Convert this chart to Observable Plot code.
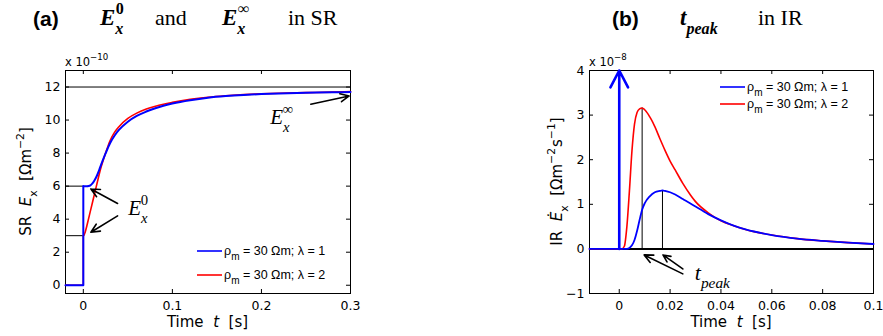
<!DOCTYPE html>
<html><head><meta charset="utf-8">
<script src="https://cdn.jsdelivr.net/npm/d3@7"></script>
<script src="https://cdn.jsdelivr.net/npm/@observablehq/plot@0.6"></script>
<style>
body{margin:0;background:#fff;}
#wrap{display:flex;width:883px;height:336px;overflow:hidden;}
#wrap svg{flex:none;}
</style></head><body><div id="wrap"></div>
<script>
// ---------- panel (a): SR ----------
const srDomainX = [-0.02, 0.3];
const srDomainY = [-0.5, 13];
const srTicksX = [0, 0.1, 0.2, 0.3];
const srTickLabelsX = ["0", "0.1", "0.2", "0.3"];
const srTicksY = [0, 2, 4, 6, 8, 10, 12];
const srTickLabelsY = ["0", "2", "4", "6", "8", "10", "12"];
const srInfinity = [12];

const srBlueT = [0, 0.004, 0.006, 0.008, 0.010, 0.012, 0.015, 0.018, 0.020, 0.025, 0.030, 0.035, 0.040, 0.050, 0.060, 0.070, 0.080, 0.090, 0.100, 0.120, 0.140, 0.160, 0.180, 0.200, 0.220, 0.250, 0.280, 0.300];
const srBlueV = [6.00, 6.00, 6.01, 6.05, 6.15, 6.30, 6.60, 7.00, 7.30, 7.98, 8.60, 9.05, 9.40, 9.90, 10.25, 10.50, 10.70, 10.87, 11.00, 11.20, 11.35, 11.45, 11.52, 11.57, 11.61, 11.65, 11.68, 11.70];
const srRedT = [0, 0.001, 0.002, 0.004, 0.006, 0.008, 0.010, 0.012, 0.014, 0.016, 0.018, 0.020, 0.022, 0.025, 0.030, 0.035, 0.040, 0.050, 0.060, 0.070, 0.080, 0.090, 0.100, 0.120, 0.140, 0.160, 0.180, 0.200, 0.220, 0.250, 0.280, 0.300];
const srRedV = [3.00, 3.05, 3.20, 3.60, 4.05, 4.50, 4.95, 5.40, 5.85, 6.30, 6.75, 7.15, 7.50, 8.00, 8.75, 9.25, 9.60, 10.10, 10.42, 10.65, 10.82, 10.96, 11.07, 11.25, 11.38, 11.47, 11.54, 11.59, 11.62, 11.66, 11.69, 11.72];

const srE0Arrows = [{x1: 0.0385, y1: 4.95, x2: 0.0085, y2: 5.83}, {x1: 0.0385, y1: 4.20, x2: 0.0085, y2: 3.21}];
const srEinfArrow = [{x1: 0.2554, y1: 10.96, x2: 0.2985, y2: 11.46}];
const srE0Label = {x: 0.051, y: 4.22};
const srEinfLabel = {x: 0.2105, y: 9.71};

// ---------- panel (b): IR ----------
const irDomainX = [-0.0117, 0.1];
const irDomainY = [-1, 4];
const irTicksX = [0, 0.02, 0.04, 0.06, 0.08, 0.1];
const irTickLabelsX = ["0", "0.02", "0.04", "0.06", "0.08", "0.1"];
const irTicksY = [-1, 0, 1, 2, 3, 4];
const irTickLabelsY = ["\u22121", "0", "1", "2", "3", "4"];

const irRedT = [0, 0.001, 0.002, 0.003, 0.004, 0.005, 0.006, 0.007, 0.008, 0.009, 0.010, 0.011, 0.012, 0.013, 0.014, 0.016, 0.018, 0.020, 0.022, 0.025, 0.028, 0.030, 0.035, 0.040, 0.045, 0.050, 0.060, 0.070, 0.080, 0.090, 0.100];
const irRedV = [0, 0, 0.06, 0.50, 1.30, 2.20, 2.80, 3.06, 3.14, 3.16, 3.12, 3.05, 2.96, 2.86, 2.74, 2.47, 2.21, 1.97, 1.77, 1.47, 1.21, 1.06, 0.81, 0.63, 0.52, 0.43, 0.31, 0.23, 0.18, 0.14, 0.11];
const irBlueT = [0, 0.003, 0.004, 0.005, 0.006, 0.007, 0.008, 0.009, 0.010, 0.012, 0.014, 0.016, 0.017, 0.018, 0.020, 0.022, 0.025, 0.028, 0.030, 0.035, 0.040, 0.045, 0.050, 0.060, 0.070, 0.080, 0.090, 0.100];
const irBlueV = [0, 0, 0.02, 0.08, 0.20, 0.40, 0.65, 0.88, 1.02, 1.18, 1.27, 1.30, 1.31, 1.30, 1.27, 1.22, 1.12, 1.02, 0.95, 0.78, 0.64, 0.52, 0.43, 0.31, 0.23, 0.18, 0.14, 0.11];

const irPeakArrows = [{x1: 0.025, y1: -0.56, x2: 0.0098, y2: -0.135}, {x1: 0.025, y1: -0.45, x2: 0.0172, y2: -0.135}];
const irPeakLabel = {x: 0.0299, y: -0.71};

const legendLabels = ["1", "2"];
const BLUE = "#0000ff", RED = "#ff0000";

// ---------- helpers ----------
const zip = (T, V) => T.map((t, i) => ({t, v: V[i]}));
function boxTicks(xt, yt, xd, yd, len) {
  return [
    Plot.ruleX(xt, {x: d => d, y1: yd[0], y2: yd[0], insetBottom: len, stroke: "black"}),
    Plot.ruleX(xt, {x: d => d, y1: yd[1], y2: yd[1], insetTop: len, stroke: "black"}),
    Plot.ruleY(yt, {y: d => d, x1: xd[0], x2: xd[0], insetLeft: len, stroke: "black"}),
    Plot.ruleY(yt, {y: d => d, x1: xd[1], x2: xd[1], insetRight: len, stroke: "black"})
  ];
}
function rich(sel, parts, size) {
  let off = 0;
  for (const p of parts) {
    const target = p.sub ? size * 0.38 : p.sup ? -size * 0.5 : 0;
    const ts = sel.append("tspan").text(p.t).attr("dy", target - off);
    off = target;
    if (p.sub || p.sup) ts.attr("font-size", size * (p.scale || 0.72));
    if (p.it) ts.attr("font-style", "italic");
    if (p.bold) ts.attr("font-weight", "bold");
    if (p.font) ts.attr("font-family", p.font);
    if (p.dx != null) ts.attr("dx", p.dx);
  }
  return sel;
}
const SANS = "DejaVu Sans", SERIF = "Liberation Serif", LEG = "Liberation Sans";
const style = {fontFamily: SANS, fontSize: "12.5px", color: "black", background: "white"};

// ---------- panel (a) plot ----------
const srBlue = zip(srBlueT, srBlueV), srRed = zip(srRedT, srRedV);
const stepOf = (s, x0) => [{t: x0, v: 0}, {t: s[0].t, v: 0}, {t: s[0].t, v: s[0].v}];
const plotA = Plot.plot({
  width: 441, height: 336,
  marginLeft: 65, marginRight: 91, marginTop: 70, marginBottom: 43,
  style,
  x: {domain: srDomainX, ticks: srTicksX, tickSize: 0, tickPadding: 8, tickFormat: d => srTickLabelsX[srTicksX.indexOf(d)], label: null},
  y: {domain: srDomainY, ticks: srTicksY, tickSize: 0, tickPadding: 5, tickFormat: d => srTickLabelsY[srTicksY.indexOf(d)], label: null},
  marks: [
    Plot.frame({stroke: "black"}),
    ...boxTicks(srTicksX, srTicksY, srDomainX, srDomainY, 4),
    Plot.ruleY(srInfinity, {stroke: "black", strokeWidth: 1}),
    Plot.ruleY([srBlue[0].v, srRed[0].v], {x1: srDomainX[0], x2: srBlue[0].t, stroke: "black", strokeWidth: 1}),
    Plot.line(stepOf(srRed, srDomainX[0]), {x: "t", y: "v", stroke: RED, strokeWidth: 1.5}),
    Plot.line(srRed, {x: "t", y: "v", stroke: RED, strokeWidth: 1.6, curve: "monotone-x"}),
    Plot.line(stepOf(srBlue, srDomainX[0]), {x: "t", y: "v", stroke: BLUE, strokeWidth: 2}),
    Plot.line(srBlue, {x: "t", y: "v", stroke: BLUE, strokeWidth: 2, curve: "monotone-x"}),
    Plot.arrow(srE0Arrows, {x1: "x1", y1: "y1", x2: "x2", y2: "y2", stroke: "black", strokeWidth: 1.6, headLength: 9, headAngle: 50}),
    Plot.arrow(srEinfArrow, {x1: "x1", y1: "y1", x2: "x2", y2: "y2", stroke: "black", strokeWidth: 1.6, headLength: 9, headAngle: 50})
  ]
});

// ---------- panel (b) plot ----------
const irRed = zip(irRedT, irRedV), irBlue = zip(irBlueT, irBlueV);
const peakOf = s => s[d3.greatestIndex(s, d => d.v)];
const irPeaks = [peakOf(irRed), peakOf(irBlue)];
const plotB = Plot.plot({
  width: 442, height: 336,
  marginLeft: 148, marginRight: 10, marginTop: 70, marginBottom: 43,
  style,
  x: {domain: irDomainX, ticks: irTicksX, tickSize: 0, tickPadding: 8, tickFormat: d => irTickLabelsX[irTicksX.indexOf(d)], label: null},
  y: {domain: irDomainY, ticks: irTicksY, tickSize: 0, tickPadding: 5, tickFormat: d => irTickLabelsY[irTicksY.indexOf(d)], label: null},
  marks: [
    Plot.frame({stroke: "black"}),
    ...boxTicks(irTicksX, irTicksY, irDomainX, irDomainY, 4),
    Plot.ruleY([0], {stroke: "black", strokeWidth: 2}),
    Plot.ruleX(irPeaks, {x: "t", y1: 0, y2: "v", stroke: "black", strokeWidth: 1}),
    Plot.line([{t: irDomainX[0], v: 0}, ...irRed], {x: "t", y: "v", stroke: RED, strokeWidth: 1.6, curve: "monotone-x"}),
    Plot.line([{t: irDomainX[0], v: 0}, ...irBlue], {x: "t", y: "v", stroke: BLUE, strokeWidth: 1.8, curve: "monotone-x"}),
    Plot.arrow([{t: 0}], {x1: "t", x2: "t", y1: 0, y2: irDomainY[1], stroke: BLUE, strokeWidth: 2.6, headLength: 11, headAngle: 55}),
    Plot.arrow(irPeakArrows, {x1: "x1", y1: "y1", x2: "x2", y2: "y2", stroke: "black", strokeWidth: 1.6, headLength: 9, headAngle: 50})
  ]
});

const wrap = document.getElementById("wrap");
wrap.append(plotA, plotB);

// ---------- text overlays ----------
function decorate(plot, opts) {
  const sx = plot.scale("x"), sy = plot.scale("y");
  const X = v => sx.apply(v), Y = v => sy.apply(v);
  const [left, right] = sx.range, [bottom, top] = sy.range;
  const svg = d3.select(plot);
  const g = svg.append("g").attr("fill", "black").attr("text-anchor", "start");
  rich(g.append("text").attr("x", left).attr("y", top - 4).attr("font-family", SANS).attr("font-size", 11.5),
    [{t: "x 10"}, {t: opts.exp, sup: true, scale: 0.75}], 11.5);
  rich(g.append("text").attr("x", (left + right) / 2).attr("y", 327).attr("text-anchor", "middle").attr("font-family", SANS).attr("font-size", 15).style("white-space", "pre"),
    [{t: "Time  "}, {t: "t", it: true}, {t: "  [s]"}], 15);
  rich(g.append("text").attr("transform", `translate(${opts.ylabelX},${(top + bottom) / 2}) rotate(-90)`).attr("text-anchor", "middle").attr("font-family", SANS).attr("font-size", 15).style("white-space", "pre"),
    opts.ylabel, 15);
  opts.legend.forEach((c, i) => {
    const ly = opts.legendY(top, bottom)[i];
    const lx = right - 153;
    g.append("line").attr("x1", lx).attr("x2", lx + 25).attr("y1", ly).attr("y2", ly).attr("stroke", c).attr("stroke-width", 1.6);
    rich(g.append("text").attr("x", lx + 27).attr("y", ly + 4).attr("font-family", LEG).attr("font-size", 12.5).style("white-space", "pre"),
      [{t: "\u03c1"}, {t: "m", sub: true, scale: 0.8}, {t: " = 30 \u03a9m; \u03bb = " + legendLabels[i]}], 12.5);
  });
  return {g, X, Y};
}

const A = decorate(plotA, {
  exp: "\u221210", ylabelX: 31,
  ylabel: [{t: "SR  "}, {t: "E", it: true}, {t: "x", sub: true}, {t: "  [\u03a9m"}, {t: "\u22122", sup: true}, {t: "]"}],
  legend: [BLUE, RED], legendY: (top, bottom) => [bottom - 42, bottom - 18]
});
function eLabel(g, x, y, sup, size, bold) {
  const t = g.append("text").attr("x", x).attr("y", y).attr("font-family", SERIF).attr("font-size", size);
  if (bold) t.attr("font-weight", "bold");
  rich(t, [{t: "E", it: true}, {t: "x", it: true, sub: true, scale: 0.7}, {t: sup, sup: true, scale: 0.7, dx: -size * 0.33}], size);
  return t;
}
eLabel(A.g, A.X(srE0Label.x), A.Y(srE0Label.y), "0", 21, false);
eLabel(A.g, A.X(srEinfLabel.x), A.Y(srEinfLabel.y), "\u221e", 21, false);
A.g.append("text").attr("x", 33).attr("y", 26).attr("font-family", LEG).attr("font-weight", "bold").attr("font-size", 21).text("(a)");
eLabel(A.g, 100, 25, "0", 23, true);
A.g.append("text").attr("x", 155).attr("y", 25).attr("font-family", SERIF).attr("font-size", 22).text("and");
eLabel(A.g, 222, 25, "\u221e", 23, true);
A.g.append("text").attr("x", 288).attr("y", 25).attr("font-family", SERIF).attr("font-size", 22).text("in SR");

const B = decorate(plotB, {
  exp: "\u22128", ylabelX: 562 - 441,
  ylabel: [{t: "IR  "}, {t: "\u0116", it: true}, {t: "x", sub: true}, {t: "  [\u03a9m"}, {t: "\u22122", sup: true}, {t: "s", dx: 1}, {t: "\u22121", sup: true}, {t: "]"}],
  legend: [BLUE, RED], legendY: (top, bottom) => [top + 17, top + 34]
});
rich(B.g.append("text").attr("x", B.X(irPeakLabel.x)).attr("y", B.Y(irPeakLabel.y)).attr("font-family", SERIF).attr("font-size", 22),
  [{t: "t", it: true}, {t: "peak", it: true, sub: true, scale: 0.7}], 22);
B.g.append("text").attr("x", 612 - 441).attr("y", 26).attr("font-family", LEG).attr("font-weight", "bold").attr("font-size", 21).text("(b)");
rich(B.g.append("text").attr("x", 680 - 441).attr("y", 25).attr("font-family", SERIF).attr("font-weight", "bold").attr("font-size", 23),
  [{t: "t", it: true}, {t: "peak", it: true, sub: true, scale: 0.7}], 23);
B.g.append("text").attr("x", 758 - 441).attr("y", 25).attr("font-family", SERIF).attr("font-size", 22).text("in IR");
</script></body></html>
